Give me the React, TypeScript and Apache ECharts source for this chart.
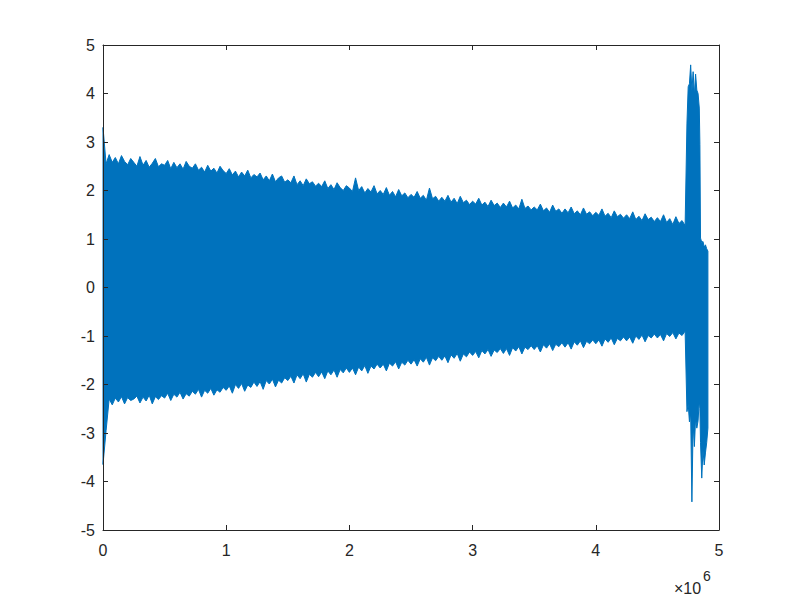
import React, { useEffect, useRef } from "react";
import * as echarts from "echarts";

// Sampling grid step (×10^6) for the main part of the signal
const STEP = 0.025;

// Upper envelope of the signal, x = 0 .. 4.725 (×10^6), step 0.025
const upperMain = [
  3.30, 2.55, 2.74, 2.58, 2.68, 2.55, 2.72, 2.60, 2.53, 2.66,
  2.58, 2.50, 2.70, 2.52, 2.62, 2.48, 2.56, 2.66, 2.49, 2.55,
  2.52, 2.62, 2.45, 2.58, 2.47, 2.55, 2.44, 2.60, 2.50, 2.46,
  2.55, 2.42, 2.48, 2.38, 2.52, 2.40, 2.46, 2.36, 2.50, 2.41,
  2.35, 2.45, 2.32, 2.40, 2.28, 2.38, 2.30, 2.42, 2.26, 2.33,
  2.28, 2.36, 2.22, 2.30, 2.20, 2.34, 2.18, 2.26, 2.30, 2.17,
  2.22, 2.16, 2.30, 2.12, 2.20, 2.10, 2.24, 2.14, 2.18, 2.09,
  2.15, 2.08, 2.20, 2.04, 2.12, 2.02, 2.16, 2.06, 2.00, 2.10,
  2.05, 1.98, 2.26, 2.00, 2.08, 1.95, 2.04, 1.97, 2.10, 1.93,
  2.00, 1.92, 2.06, 1.90, 1.98, 1.87, 2.02, 1.89, 1.95, 1.85,
  1.92, 1.86, 1.98, 1.84, 1.90, 1.80, 2.05, 1.83, 1.88, 1.78,
  1.86, 1.78, 1.90, 1.76, 1.84, 1.73, 1.88, 1.75, 1.80, 1.71,
  1.78, 1.72, 1.84, 1.70, 1.76, 1.67, 1.80, 1.69, 1.74, 1.65,
  1.74, 1.66, 1.78, 1.64, 1.70, 1.62, 1.82, 1.63, 1.68, 1.60,
  1.66, 1.60, 1.72, 1.58, 1.64, 1.55, 1.70, 1.57, 1.62, 1.53,
  1.62, 1.54, 1.66, 1.52, 1.58, 1.50, 1.64, 1.51, 1.56, 1.48,
  1.55, 1.49, 1.62, 1.47, 1.53, 1.44, 1.58, 1.46, 1.51, 1.43,
  1.50, 1.42, 1.56, 1.40, 1.47, 1.38, 1.52, 1.40, 1.45, 1.36,
  1.44, 1.36, 1.50, 1.34, 1.42, 1.30, 1.46, 1.32, 1.38, 1.28,
];

// Lower envelope of the signal, same grid
const lowerMain = [
  -3.65, -2.95, -2.30, -2.42, -2.28, -2.36, -2.25, -2.40, -2.27, -2.33,
  -2.30, -2.24, -2.38, -2.26, -2.34, -2.22, -2.40, -2.25, -2.31, -2.23,
  -2.28, -2.18, -2.33, -2.20, -2.26, -2.16, -2.30, -2.19, -2.24, -2.14,
  -2.20, -2.10, -2.26, -2.12, -2.18, -2.08, -2.22, -2.11, -2.16, -2.06,
  -2.12, -2.03, -2.18, -2.00, -2.08, -1.98, -2.14, -2.01, -2.06, -1.95,
  -2.04, -1.94, -2.10, -1.92, -1.99, -1.89, -2.05, -1.91, -1.97, -1.86,
  -1.92, -1.83, -1.97, -1.80, -1.88, -1.78, -1.95, -1.79, -1.85, -1.75,
  -1.84, -1.74, -1.88, -1.72, -1.80, -1.70, -1.85, -1.69, -1.76, -1.66,
  -1.75, -1.66, -1.80, -1.64, -1.72, -1.61, -1.77, -1.62, -1.68, -1.58,
  -1.66, -1.58, -1.72, -1.56, -1.62, -1.53, -1.68, -1.54, -1.60, -1.50,
  -1.58, -1.49, -1.62, -1.47, -1.54, -1.44, -1.60, -1.45, -1.51, -1.42,
  -1.50, -1.41, -1.55, -1.39, -1.46, -1.36, -1.52, -1.37, -1.43, -1.33,
  -1.40, -1.32, -1.45, -1.30, -1.37, -1.28, -1.42, -1.29, -1.34, -1.26,
  -1.36, -1.26, -1.40, -1.24, -1.31, -1.22, -1.37, -1.23, -1.28, -1.20,
  -1.28, -1.20, -1.33, -1.18, -1.25, -1.16, -1.30, -1.17, -1.22, -1.14,
  -1.23, -1.14, -1.27, -1.12, -1.19, -1.10, -1.24, -1.11, -1.16, -1.08,
  -1.16, -1.08, -1.21, -1.06, -1.13, -1.04, -1.18, -1.05, -1.10, -1.02,
  -1.10, -1.02, -1.15, -1.00, -1.07, -0.98, -1.12, -0.99, -1.04, -0.96,
  -1.04, -0.97, -1.10, -0.95, -1.01, -0.93, -1.06, -0.94, -0.99, -0.90,
];

// Tail of the signal (burst near 4.75–4.85 ×10^6 and last segment)
const xTail = [4.74, 4.75, 4.76, 4.77, 4.78, 4.79, 4.8, 4.81, 4.82, 4.83, 4.84, 4.845, 4.85, 4.86, 4.87, 4.88, 4.89, 4.9, 4.91];
const upperTail = [3.39, 4.14, 4.2, 4.59, 4.05, 4.45, 3.96, 4.4, 4.07, 4.0, 3.7, 2.95, 1.02, 0.93, 0.95, 0.83, 0.88, 0.8, 0.75];
const lowerTail = [-2.56, -2.4, -2.77, -2.6, -4.42, -2.8, -3.28, -2.7, -2.9, -2.75, -2.32, -2.5, -3.2, -3.93, -3.35, -3.66, -3.41, -3.2, -2.9];

const COLOR = "#0072BD";
const AXIS = "#262626";
const FONT = "'Liberation Sans', Arial, Helvetica, sans-serif";

export default function App() {
  const ref = useRef<HTMLDivElement>(null);
  useEffect(() => {
    if (!ref.current) return;
    const chart = echarts.init(ref.current, undefined, { renderer: "svg" });
    const xs = upperMain.map((_, i) => +(i * STEP).toFixed(3)).concat(xTail);
    const up = upperMain.concat(upperTail);
    const lo = lowerMain.concat(lowerTail);
    const bandData = xs.map((x, i) => [x, lo[i], up[i]]);

    const axisCommon = {
      type: "value" as const,
      z: 10,
      axisLine: { show: true, onZero: false, lineStyle: { color: AXIS, width: 1 } },
      axisTick: { show: true, inside: true, length: 5, lineStyle: { color: AXIS } },
      splitLine: { show: false },
    };

    chart.setOption({
      animation: false,
      backgroundColor: "#ffffff",
      grid: { left: 103, right: 76, top: 45, bottom: 67, containLabel: false },
      xAxis: [
        {
          ...axisCommon,
          position: "bottom",
          min: 0,
          max: 5,
          interval: 1,
          axisLabel: { color: AXIS, fontSize: 16, fontFamily: FONT, margin: 12 },
        },
        {
          ...axisCommon,
          position: "top",
          min: 0,
          max: 5,
          interval: 1,
          axisLabel: { show: false },
        },
      ],
      yAxis: [
        {
          ...axisCommon,
          position: "left",
          min: -5,
          max: 5,
          interval: 1,
          axisLabel: { color: AXIS, fontSize: 16, fontFamily: FONT, margin: 8 },
        },
        {
          ...axisCommon,
          position: "right",
          min: -5,
          max: 5,
          interval: 1,
          axisLabel: { show: false },
        },
      ],
      series: [
        {
          type: "custom",
          name: "signal",
          xAxisIndex: 0,
          yAxisIndex: 0,
          data: bandData,
          encode: { x: 0, y: [1, 2] },
          silent: true,
          renderItem: (params: any, api: any) => {
            // the whole envelope is drawn as one polygon from the first item
            if (params.dataIndex !== 0) return { type: "group", children: [] };
            const top = bandData.map((d) => api.coord([d[0], d[2]]));
            const bottom = bandData.map((d) => api.coord([d[0], d[1]])).reverse();
            return {
              type: "polygon",
              shape: { points: top.concat(bottom) },
              style: { fill: COLOR, stroke: COLOR, lineWidth: 1, lineJoin: "miter" },
            };
          },
        },
      ],
      graphic: [
        {
          type: "text",
          left: 674,
          top: 580,
          style: { text: "×10", fill: AXIS, fontSize: 16, fontFamily: FONT },
        },
        {
          type: "text",
          left: 703,
          top: 569,
          style: { text: "6", fill: AXIS, fontSize: 14, fontFamily: FONT },
        },
      ],
    });
    return () => chart.dispose();
  }, []);
  return (
    <div
      ref={ref}
      style={{ position: "fixed", left: 0, top: 0, width: 795, height: 597, background: "#fff" }}
    />
  );
}
